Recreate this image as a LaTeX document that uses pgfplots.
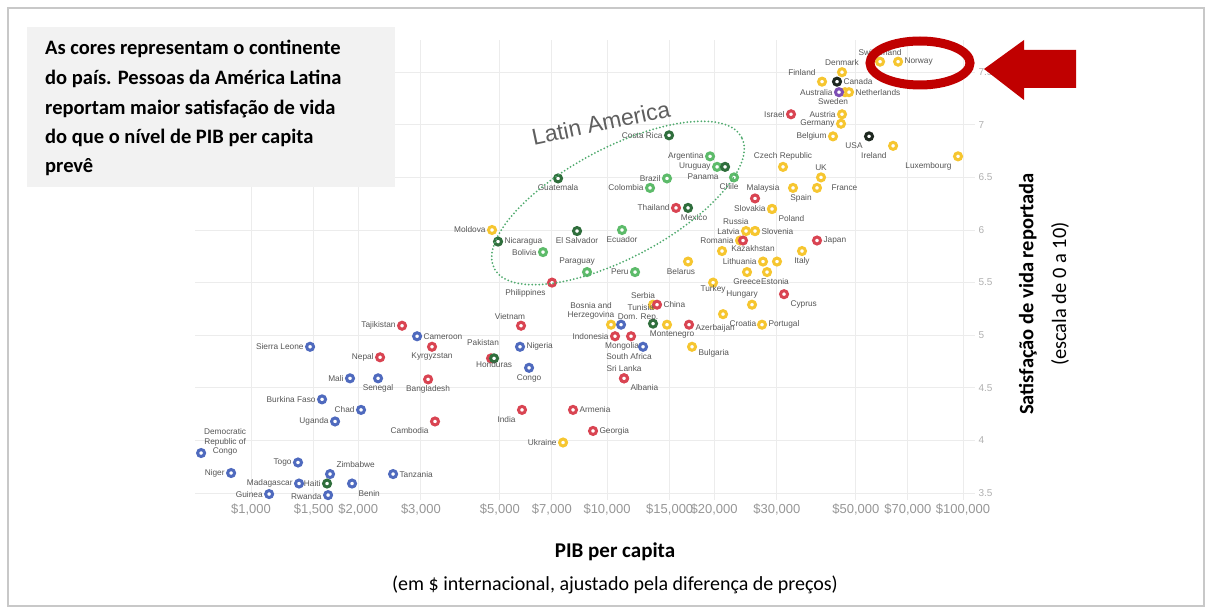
\documentclass[border=0pt]{standalone}
\usepackage{pgfplots}
\pgfplotsset{compat=1.18}
\usepackage{fontspec}
\setmainfont{Carlito}
\newfontfamily\helv{Liberation Sans}

\definecolor{afr}{RGB}{79,106,190}
\definecolor{asi}{RGB}{217,68,82}
\definecolor{eur}{RGB}{246,198,48}
\definecolor{sam}{RGB}{93,187,106}
\definecolor{cam}{RGB}{47,110,60}
\definecolor{nam}{RGB}{30,40,32}
\definecolor{oce}{RGB}{126,79,181}
\definecolor{lblc}{RGB}{85,85,85}
\definecolor{tickc}{RGB}{150,150,150}
\definecolor{ytickc}{RGB}{175,175,175}
\definecolor{gridc}{RGB}{236,236,236}
\definecolor{boxc}{RGB}{242,242,242}
\definecolor{framec}{RGB}{200,200,200}
\definecolor{arrowred}{RGB}{192,0,0}
\definecolor{laell}{RGB}{80,170,110}
\definecolor{latxt}{RGB}{95,95,95}

% one style per continent; label anchor and nudge come from the table
\pgfplotsset{
  cty/.style={only marks, mark=*, mark size=3.5pt,
    mark options={fill=white, draw=#1, line width=3pt},
    nodes near coords, point meta=explicit symbolic,
    visualization depends on={value \thisrow{anchor}\as\lblanchor},
    visualization depends on={\thisrow{dx}\as\lbldx},
    visualization depends on={\thisrow{dy}\as\lbldy},
    every node near coord/.append style={font=\helv\fontsize{8.3}{9}\selectfont,
      text=lblc, anchor=\lblanchor, inner sep=5pt,
      xshift=\lbldx pt, yshift=\lbldy pt}},
}

\begin{document}
\begin{tikzpicture}[x=1pt,y=1pt]
\path[use as bounding box] (0,0) rectangle (1212,614);
\draw[framec, line width=1.2pt] (8,8) rectangle (1204,606);

\begin{axis}[
  at={(195pt,114pt)}, anchor=south west,
  scale only axis, width=780pt, height=460pt,
  xmode=log, xmin=696, xmax=108080, ymin=3.4335, ymax=7.806,
  axis line style={draw=none}, major tick length=0pt,
  grid=major, major grid style={draw=gridc, line width=0.9pt},
  xtick={1000,1500,2000,3000,5000,7000,10000,15000,20000,30000,50000,70000,100000},
  xticklabels={{\$1,000},{\$1,500},{\$2,000},{\$3,000},{\$5,000},{\$7,000},{\$10,000},{\$15,000},{\$20,000},{\$30,000},{\$50,000},{\$70,000},{\$100,000}},
  ytick={3.5,4,4.5,5,5.5,6,6.5,7,7.5},
  yticklabels={3.5,4,4.5,5,5.5,6,6.5,7,7.5},
  yticklabel pos=right,
  x tick label style={font=\helv\fontsize{13}{13}\selectfont, text=tickc},
  y tick label style={font=\helv\fontsize{10}{10}\selectfont, text=ytickc, anchor=west},
  clip=false,
]
% Europe: GDP per capita (int. $), life satisfaction, label, anchor, nudge
\addplot[cty=eur] table[col sep=comma, x=gdp, y=ls, meta=label] {
gdp,ls,label,anchor,dx,dy
7525,3.98,Ukraine,east,0,0
4753,6.00,Moldova,east,0,0
13466,5.29,Serbia,south,-10,0
10261,5.10,{},center,0,0
14740,5.10,Montenegro,north,5,0
17331,4.89,Bulgaria,north west,0,4
19860,5.50,Turkey,north,0,4
25545,5.29,Hungary,south,-10,0
21177,5.20,Croatia,north west,0,0
27251,5.10,Portugal,west,0,0
16887,5.70,Belarus,north,-7,0
21040,5.80,{},center,0,0
24572,5.99,Latvia,east,0,0
26044,5.99,Russia,south east,0,0
26044,5.99,Slovenia,west,0,0
23639,5.90,Romania,east,0,0
27428,5.70,Lithuania,east,0,0
30026,5.70,{},center,0,0
24732,5.60,Greece,north,0,0
28146,5.60,Estonia,north,8,0
35298,5.80,Italy,north,0,0
29072,6.20,Slovakia,east,0,0
29072,6.20,Poland,north west,0,0
31217,6.60,Czech Republic,south,0,0
33303,6.40,Spain,north,8,0
38898,6.40,France,west,8,0
39920,6.50,UK,south,0,0
43133,6.89,Belgium,east,0,0
45423,7.01,Germany,east,0,0
45717,7.10,Austria,east,0,0
63620,6.80,Ireland,north east,0,0
96830,6.70,Luxembourg,north east,0,0
40179,7.41,Finland,south east,0,0
45717,7.50,Denmark,south,0,0
46612,7.31,Sweden,north,-12,0
47838,7.31,Netherlands,west,0,0
58480,7.60,Switzerland,south,0,0
65710,7.60,Norway,west,0,0
};
% Asia
\addplot[cty=asi] table[col sep=comma, x=gdp, y=ls, meta=label] {
gdp,ls,label,anchor,dx,dy
2656,5.09,Tajikistan,east,0,0
3224,4.89,Kyrgyzstan,north,0,0
2304,4.79,Nepal,east,0,0
3143,4.58,Bangladesh,north,0,0
3287,4.18,Cambodia,north east,0,0
7007,5.50,Philippines,north east,0,0
5733,5.09,Vietnam,south,-11,0
4723,4.78,Pakistan,south,-8,6
10531,4.99,Indonesia,east,0,0
11680,4.99,Mongolia,north,-9,0
11163,4.59,Sri Lanka,south,0,0
11163,4.59,Albania,north west,0,0
13818,5.29,China,west,0,0
16996,5.10,Azerbaijan,west,0,-4
5770,4.29,India,north east,0,0
8026,4.29,Armenia,west,0,0
9134,4.09,Georgia,west,0,0
15624,6.21,Thailand,east,0,0
26044,6.30,Malaysia,south,8,0
24100,5.90,Kazakhstan,north,10,2
38898,5.90,Japan,west,0,0
32875,7.10,Israel,east,0,0
31420,5.39,Cyprus,north west,0,0
};
% Africa
\addplot[cty=afr] table[col sep=comma, x=gdp, y=ls, meta=label] {
gdp,ls,label,anchor,dx,dy
1465,4.89,Sierra Leone,east,0,0
2927,4.99,Cameroon,west,0,0
1897,4.59,Mali,east,0,0
2274,4.59,Senegal,north,0,0
1583,4.39,Burkina Faso,east,0,0
2037,4.29,Chad,east,0,0
1722,4.18,Uganda,east,0,0
724,3.88,{},center,0,0
1355,3.79,Togo,east,0,0
879,3.69,Niger,east,0,0
1667,3.68,Zimbabwe,south west,0,0
2506,3.68,Tanzania,west,0,0
1364,3.59,Madagascar,east,0,0
1922,3.59,Benin,north west,0,0
1124,3.49,Guinea,east,0,0
1646,3.48,Rwanda,east,0,-1
5696,4.89,Nigeria,west,0,0
6039,4.69,Congo,north,0,0
10948,5.10,Tunisia,south west,0,8
12623,4.89,South Africa,north,-14,0
};
% South America
\addplot[cty=sam] table[col sep=comma, x=gdp, y=ls, meta=label] {
gdp,ls,label,anchor,dx,dy
19475,6.70,Argentina,east,0,0
20378,6.60,Uruguay,east,0,0
22737,6.50,Chile,north,-5,0
14740,6.49,Brazil,east,0,0
13207,6.40,Colombia,east,0,0
11018,6.00,Ecuador,north,0,0
6610,5.79,Bolivia,east,0,0
8787,5.60,Paraguay,south,-10,0
11987,5.60,Peru,east,0,0
};
% Central America and Caribbean
\addplot[cty=cam] table[col sep=comma, x=gdp, y=ls, meta=label] {
gdp,ls,label,anchor,dx,dy
14935,6.90,Costa Rica,east,0,0
21456,6.60,Panama,north east,0,0
7286,6.49,Guatemala,north,0,0
16887,6.21,Mexico,north,6,0
4941,5.89,Nicaragua,west,0,0
8236,5.99,El Salvador,north,0,0
4815,4.78,Honduras,north,0,3
13466,5.11,Dom. Rep.,center,-15,6
1635,3.59,Haiti,east,0,0
};
% North America
\addplot[cty=nam] table[col sep=comma, x=gdp, y=ls, meta=label] {
gdp,ls,label,anchor,dx,dy
44265,7.41,Canada,west,0,0
54450,6.89,USA,north east,0,0
};
% Oceania
\addplot[cty=oce] table[col sep=comma, x=gdp, y=ls, meta=label] {
gdp,ls,label,anchor,dx,dy
44840,7.31,Australia,east,0,0
};

\node[align=center, font=\helv\fontsize{8.3}{9.5}\selectfont, text=lblc, xshift=24pt, yshift=11pt]
  at (axis cs:724,3.88) {Democratic\\Republic of\\Congo};
\node[align=center, font=\helv\fontsize{8.3}{9.5}\selectfont, text=lblc, xshift=-20pt, yshift=14pt]
  at (axis cs:10261,5.10) {Bosnia and\\Herzegovina};
\end{axis}

% Latin America highlight
\draw[laell, line width=2pt, line cap=round, dash pattern=on 0pt off 3.5pt,
  rotate around={28:(618,411)}] (618,411) ellipse [x radius=140, y radius=55];
\node[rotate=12, font=\helv\fontsize{23}{23}\selectfont, text=latxt] at (601,491) {Latin America};

% Norway highlight and arrow
\draw[arrowred, line width=9pt] (920,551) ellipse [x radius=50, y radius=22];
\fill[arrowred] (984,545) -- (1024,574) -- (1024,564) -- (1076,564) -- (1076,526)
  -- (1024,526) -- (1024,514) -- cycle;

% note box
\fill[boxc] (27,427) rectangle (395,587);
\begin{scope}[every node/.style={anchor=base west, inner sep=0pt,
    font=\bfseries\fontsize{20.5}{24}\selectfont}]
\node at (45,559) {As cores representam o continente};
\node at (45,529) {do país. Pessoas da América Latina};
\node at (45,499) {reportam maior satisfação de vida};
\node at (45,470) {do que o nível de PIB per capita};
\node at (45,441) {prevê};
\end{scope}

% axis titles
\node[font=\bfseries\fontsize{21}{24}\selectfont] at (615,62) {PIB per capita};
\node[font=\fontsize{20}{24}\selectfont] at (615,29) {(em \$ internacional, ajustado pela diferença de preços)};
\node[rotate=90, font=\bfseries\fontsize{20.5}{24}\selectfont] at (1028,320) {Satisfação de vida reportada};
\node[rotate=90, font=\fontsize{20.5}{24}\selectfont] at (1060,320) {(escala de 0 a 10)};
\end{tikzpicture}
\end{document}
